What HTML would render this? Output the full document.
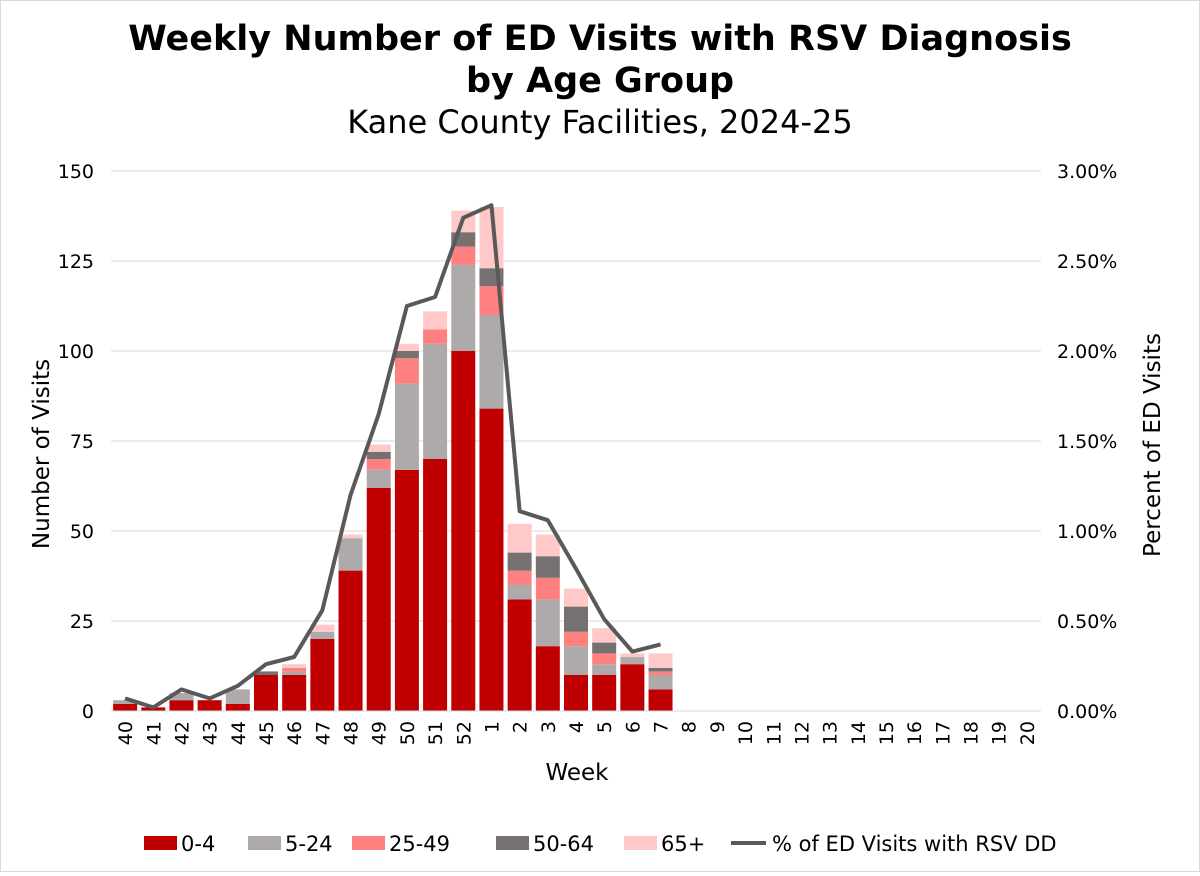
<!DOCTYPE html>
<html><head><meta charset="utf-8"><style>
body{margin:0;background:#fff;font-family:"Liberation Sans","DejaVu Sans",sans-serif}
#wrap{position:relative;width:1198px;height:870px;border:1px solid #d9d9d9;background:#fff}
</style></head><body>
<div id="wrap">
<svg id="chart" width="1198" height="870" font-family="DejaVu Sans, Liberation Sans, sans-serif"></svg>
</div>
<script>
const weeks=["40","41","42","43","44","45","46","47","48","49","50","51","52","1","2","3","4","5","6","7","8","9","10","11","12","13","14","15","16","17","18","19","20"];
const age04=[2,1,3,3,2,10,10,20,39,62,67,70,100,84,31,18,10,10,13,6];
const age524=[1,0,2,0,4,0,1,2,9,5,24,32,24,26,4,13,8,3,2,4];
const age2549=[0,0,0,0,0,0,1,0,0,3,7,4,5,8,4,6,4,3,0,1];
const age5064=[0,0,0,0,0,1,0,0,0,2,2,0,4,5,5,6,7,3,0,1];
const age65=[0,0,0,0,0,0,1,2,1,2,2,5,6,17,8,6,5,4,1,4];
const pct=[0.07,0.02,0.12,0.07,0.14,0.26,0.30,0.56,1.20,1.65,2.25,2.30,2.74,2.81,1.11,1.06,0.79,0.51,0.33,0.37];
const leftTicks=[0,25,50,75,100,125,150];
const rightTicks=["0.00%","0.50%","1.00%","1.50%","2.00%","2.50%","3.00%"];
const series=[["0-4",age04,"#c00000"],["5-24",age524,"#aeaaaa"],["25-49",age2549,"#ff8080"],["50-64",age5064,"#767171"],["65+",age65,"#ffc9c9"]];
const svg=document.getElementById('chart');const NS='http://www.w3.org/2000/svg';
function mk(t,a,p){const e=document.createElementNS(NS,t);for(const k in a)e.setAttribute(k,a[k]);(p||svg).appendChild(e);return e;}
const X0=110,X1=1040,Y0=710,Y1=170;
const band=(X1-X0)/weeks.length;
const y=v=>Y0-(v/150)*(Y0-Y1);
const yp=v=>Y0-(v/3)*(Y0-Y1);
const xc=i=>X0+band*(i+0.5);
let t=mk('text',{x:599,y:49,'text-anchor':'middle','font-size':35,'font-weight':'bold',fill:'#000'});t.textContent='Weekly Number of ED Visits with RSV Diagnosis';

t=mk('text',{x:599,y:91,'text-anchor':'middle','font-size':35,'font-weight':'bold',fill:'#000'});t.textContent='by Age Group';

t=mk('text',{x:599,y:132,'text-anchor':'middle','font-size':32,fill:'#000'});t.textContent='Kane County Facilities, 2024-25';

leftTicks.forEach((v,i)=>{
 const g=mk('line',{x1:X0,x2:X1,y1:y(v),y2:y(v),stroke:'#d9d9d9','stroke-width':1});
 
 const l=mk('text',{x:93,y:y(v)+7,'text-anchor':'end','font-size':19,fill:'#000'});l.textContent=v;
 
 const r=mk('text',{x:1056,y:y(v)+7,'font-size':19,fill:'#000'});r.textContent=rightTicks[i];
 
});
age04.forEach((_,i)=>{
 let acc=0;
 series.forEach(s=>{const v=s[1][i];if(!v){return;}
  const r=mk('rect',{x:xc(i)-12,y:y(acc+v),width:24,height:y(acc)-y(acc+v),fill:s[2]});
  
  acc+=v;});
});
mk('line',{x1:X0,x2:X1,y1:Y0,y2:Y0,stroke:'#d9d9d9','stroke-width':1});
const pl=mk('polyline',{points:pct.map((p,i)=>xc(i)+','+yp(p)).join(' '),fill:'none',stroke:'#595959','stroke-width':4,'stroke-linejoin':'round'});

weeks.forEach((w,i)=>{const l=mk('text',{transform:`translate(${xc(i)+7},${720}) rotate(-90)`,'text-anchor':'end','font-size':19,fill:'#000'});l.textContent=w;
 });
t=mk('text',{x:576,y:779,'text-anchor':'middle','font-size':23,fill:'#000'});t.textContent='Week';

t=mk('text',{transform:'translate(48,453) rotate(-90)','text-anchor':'middle','font-size':23,fill:'#000'});t.textContent='Number of Visits';

t=mk('text',{transform:'translate(1159,444) rotate(-90)','text-anchor':'middle','font-size':23,fill:'#000'});t.textContent='Percent of ED Visits';

const lx=[143,247,351,495,623];
series.forEach((s,i)=>{
 const g=mk('g',{});
 mk('rect',{x:lx[i],y:835,width:33,height:14,fill:s[2]},g);
 const tt=mk('text',{x:lx[i]+37,y:850,'font-size':21,fill:'#000'},g);tt.textContent=s[0];
});
const lg=mk('g',{});
mk('line',{x1:730,x2:765,y1:842,y2:842,stroke:'#595959','stroke-width':4},lg);
t=mk('text',{x:771,y:850,'font-size':21,fill:'#000'},lg);t.textContent='% of ED Visits with RSV DD';
</script>
</body></html>
